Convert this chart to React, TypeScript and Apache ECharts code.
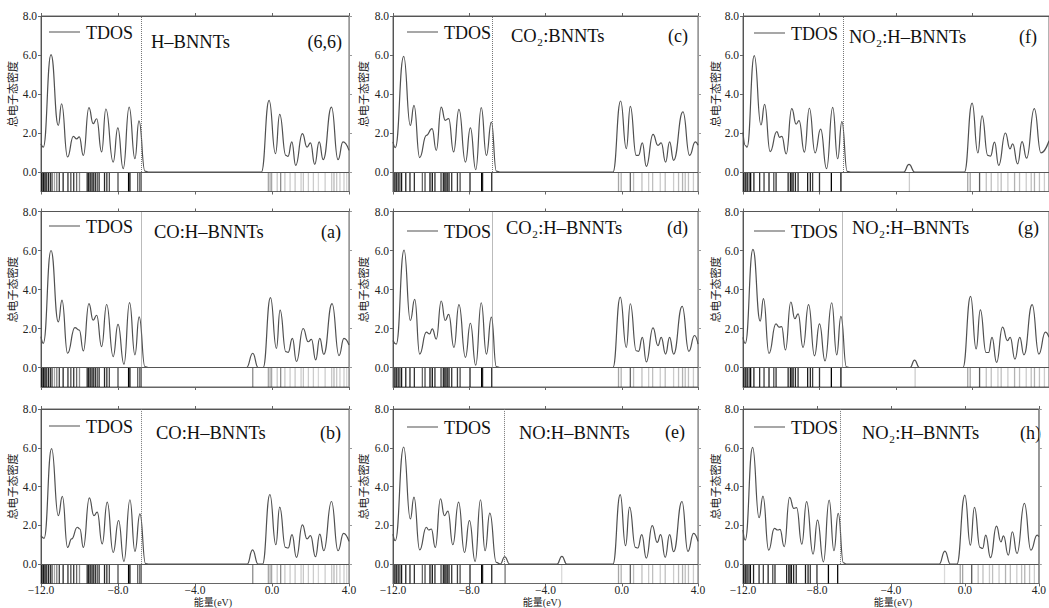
import React, { useEffect, useRef } from 'react';
import * as echarts from 'echarts';

// ---------------- DATA ----------------
const X_TICK_VALUES = [-12, -8, -4, 0, 4];
const Y_TICK_VALUES = [0, 2, 4, 6, 8];
const Y_AXIS_NAME = '总电子态密度';
const X_AXIS_NAME = '能量(eV)';
const LEGEND_NAME = 'TDOS';

const PANEL_TITLES = ['H–BNNTs', 'CO₂:BNNTs', 'NO₂:H–BNNTs', 'CO:H–BNNTs', 'CO₂:H–BNNTs', 'NO₂:H–BNNTs', 'CO:H–BNNTs', 'NO:H–BNNTs', 'NO₂:H–BNNTs'];
const PANEL_TAGS = ['(6,6)', '(c)', '(f)', '(a)', '(d)', '(g)', '(b)', '(e)', '(h)'];
const FERMI_LEVELS = [-6.81, -6.77, -6.77, -6.77, -6.77, -6.8, -6.77, -6.16, -6.74];

// TDOS curves: [energy (eV), density]
const DOS_66 = [[-12, 1.45], [-11.88, 1.28], [-11.48, 6.02], [-11.1, 2.39], [-10.93, 3.5], [-10.62, 0.77], [-10.32, 1.83], [-10.15, 1.7], [-10.01, 1.8], [-9.8, 0.85], [-9.51, 3.3], [-9.29, 2.48], [-9.11, 2.73], [-8.85, 1.03], [-8.63, 3.23], [-8.25, 0.51], [-8.01, 2.26], [-7.73, 0.17], [-7.42, 3.33], [-7.12, 0.68], [-6.91, 2.62], [-6.6, 0.05], [-6.43, 0], [-0.55, 0], [-0.15, 3.67], [0.18, 0.94], [0.4, 2.96], [0.72, 0.85], [0.83, 0.8], [1.03, 1.54], [1.23, 0.34], [1.58, 1.97], [1.82, 1.28], [2.0, 1.49], [2.22, 0.39], [2.45, 1.54], [2.66, 0.63], [3.09, 3.33], [3.43, 0.63], [3.69, 1.54], [4.0, 1.11]];
const DOS_A = [[-12, 1.58], [-11.88, 1.24], [-11.48, 6.0], [-11.1, 2.34], [-10.91, 3.46], [-10.62, 0.73], [-10.24, 2.05], [-10.01, 1.92], [-9.8, 0.85], [-9.51, 3.28], [-9.29, 2.43], [-9.11, 2.68], [-8.85, 1.07], [-8.59, 3.23], [-8.25, 0.56], [-8.0, 2.21], [-7.69, 0.17], [-7.4, 3.33], [-7.12, 0.65], [-6.9, 2.6], [-6.6, 0.05], [-6.43, 0], [-1.32, 0], [-1.0, 0.73], [-0.72, 0], [-0.46, 0], [-0.08, 3.58], [0.23, 0.98], [0.42, 2.94], [0.72, 0.81], [0.84, 0.78], [1.06, 1.49], [1.27, 0.31], [1.62, 2.0], [1.88, 1.32], [2.05, 1.44], [2.27, 0.39], [2.48, 1.49], [2.69, 0.68], [3.12, 3.28], [3.48, 0.61], [3.74, 1.49], [4.0, 1.15]];
const DOS_B = [[-12, 1.47], [-11.84, 1.33], [-11.45, 5.96], [-11.1, 2.5], [-10.89, 3.49], [-10.62, 0.86], [-10.41, 1.3], [-10.11, 1.9], [-9.98, 1.81], [-9.8, 0.86], [-9.49, 3.42], [-9.25, 2.5], [-9.08, 2.68], [-8.82, 1.04], [-8.56, 3.2], [-8.25, 0.6], [-7.97, 2.25], [-7.69, 0.14], [-7.38, 3.32], [-7.12, 0.66], [-6.86, 2.59], [-6.57, 0.03], [-6.4, 0], [-1.29, 0], [-1.01, 0.73], [-0.72, 0], [-0.49, 0], [-0.11, 3.59], [0.2, 1.0], [0.4, 2.94], [0.7, 0.86], [0.84, 0.83], [1.04, 1.52], [1.27, 0.35], [1.58, 2.02], [1.82, 1.3], [2.0, 1.47], [2.26, 0.38], [2.48, 1.55], [2.69, 0.69], [3.09, 3.23], [3.43, 0.69], [3.72, 1.59], [4.0, 1.17]];
const DOS_C = [[-12, 1.54], [-11.88, 1.25], [-11.44, 5.93], [-11.09, 2.39], [-10.9, 3.42], [-10.6, 0.74], [-10.25, 1.88], [-9.95, 2.22], [-9.73, 1.11], [-9.47, 3.33], [-9.26, 2.65], [-9.08, 2.74], [-8.82, 1.03], [-8.54, 3.21], [-8.2, 0.51], [-7.94, 2.26], [-7.66, 0.12], [-7.37, 3.3], [-7.1, 0.85], [-6.84, 2.56], [-6.58, 0.05], [-6.4, 0], [-0.46, 0], [-0.06, 3.64], [0.24, 1.2], [0.45, 3.37], [0.76, 0.85], [0.88, 0.85], [1.08, 1.49], [1.29, 0.29], [1.64, 1.93], [1.9, 1.37], [2.07, 1.49], [2.3, 0.51], [2.51, 1.54], [2.72, 0.6], [3.21, 3.08], [3.56, 0.85], [3.86, 1.54], [4.0, 1.37]];
const DOS_D = [[-12, 1.38], [-11.83, 1.2], [-11.42, 6.02], [-11.09, 2.41], [-10.86, 3.49], [-10.6, 0.69], [-10.25, 1.81], [-10.08, 1.72], [-9.94, 1.98], [-9.73, 1.46], [-9.47, 3.41], [-9.26, 2.41], [-9.08, 2.72], [-8.8, 1.03], [-8.54, 3.22], [-8.2, 0.52], [-7.94, 2.27], [-7.66, 0.12], [-7.37, 3.32], [-7.1, 0.69], [-6.84, 2.58], [-6.58, 0.05], [-6.4, 0], [-0.46, 0], [-0.08, 3.61], [0.24, 1.03], [0.45, 3.27], [0.76, 0.86], [0.88, 0.83], [1.08, 1.55], [1.29, 0.29], [1.64, 2.03], [1.9, 1.12], [2.07, 1.55], [2.3, 0.69], [2.51, 1.55], [2.72, 0.69], [3.17, 3.13], [3.52, 0.83], [3.82, 1.64], [4.0, 1.2]];
const DOS_E = [[-12, 1.55], [-11.88, 1.21], [-11.44, 6.04], [-11.09, 2.33], [-10.9, 3.45], [-10.6, 0.73], [-10.25, 1.9], [-10.13, 1.76], [-9.99, 1.81], [-9.78, 0.86], [-9.51, 3.37], [-9.3, 2.5], [-9.12, 2.73], [-8.86, 1.0], [-8.56, 3.2], [-8.25, 0.6], [-7.99, 2.25], [-7.69, 0.14], [-7.41, 3.32], [-7.17, 0.69], [-6.92, 2.63], [-6.58, 0.09], [-6.37, 0], [-6.14, 0.38], [-5.88, 0], [-3.4, 0], [-3.14, 0.4], [-2.88, 0], [-0.46, 0], [-0.08, 3.58], [0.2, 0.95], [0.41, 2.94], [0.72, 0.86], [0.84, 0.83], [1.05, 1.52], [1.29, 0.31], [1.6, 1.99], [1.86, 1.12], [2.04, 1.52], [2.28, 0.35], [2.51, 1.52], [2.72, 0.64], [3.16, 3.23], [3.47, 0.66], [3.77, 1.59], [4.0, 1.17]];
const DOS_F = [[-12, 2.03], [-11.88, 1.36], [-11.79, 1.27], [-11.41, 5.97], [-11.06, 2.41], [-10.87, 3.47], [-10.58, 1.05], [-10.23, 2.07], [-10.09, 1.78], [-9.97, 1.83], [-9.74, 0.93], [-9.45, 3.25], [-9.22, 2.46], [-9.07, 2.63], [-8.79, 1.02], [-8.53, 3.27], [-8.23, 0.98], [-7.94, 2.2], [-7.63, 0.17], [-7.31, 3.31], [-7.05, 0.68], [-6.83, 2.58], [-6.55, 0.03], [-6.32, 0], [-3.6, 0], [-3.32, 0.39], [-3.02, 0], [-0.42, 0], [-0.02, 3.53], [0.28, 0.98], [0.5, 2.88], [0.8, 0.85], [0.94, 0.81], [1.15, 1.53], [1.37, 0.34], [1.72, 2.0], [1.96, 1.19], [2.1, 1.44], [2.36, 0.42], [2.59, 1.56], [2.83, 0.71], [3.23, 3.25], [3.58, 0.98], [4.0, 1.6]];
const DOS_G = [[-12, 1.55], [-11.88, 1.24], [-11.48, 6.06], [-11.1, 2.38], [-10.93, 3.53], [-10.64, 0.72], [-10.28, 2.24], [-10.11, 2.07], [-9.98, 2.1], [-9.78, 0.9], [-9.5, 3.36], [-9.29, 2.5], [-9.12, 2.75], [-8.86, 1.03], [-8.57, 3.22], [-8.26, 0.6], [-8.0, 2.24], [-7.71, 0.34], [-7.36, 3.32], [-7.1, 0.65], [-6.88, 2.62], [-6.59, 0.03], [-6.41, 0], [-3.26, 0], [-3.03, 0.38], [-2.78, 0], [-0.5, 0], [-0.1, 3.65], [0.19, 0.95], [0.41, 2.96], [0.71, 0.77], [0.84, 0.77], [1.02, 1.55], [1.26, 0.26], [1.57, 2.07], [1.83, 1.38], [1.97, 1.55], [2.22, 0.43], [2.47, 1.55], [2.69, 0.65], [3.12, 3.22], [3.47, 0.69], [3.81, 1.81], [4.0, 1.55]];
const DOS_H = [[-12, 1.76], [-11.88, 1.24], [-11.48, 6.02], [-11.13, 2.39], [-10.92, 3.51], [-10.61, 0.72], [-10.3, 1.84], [-10.12, 1.76], [-10.0, 1.79], [-9.77, 0.9], [-9.48, 3.44], [-9.25, 2.87], [-9.1, 2.91], [-8.82, 1.03], [-8.56, 3.22], [-8.21, 0.52], [-7.97, 2.27], [-7.65, 0.12], [-7.34, 3.3], [-7.08, 0.69], [-6.85, 2.62], [-6.57, 0.07], [-6.4, 0], [-1.39, 0], [-1.08, 0.67], [-0.78, 0], [-0.43, 0], [0, 3.56], [0.3, 0.98], [0.52, 2.93], [0.82, 0.86], [0.96, 0.81], [1.13, 1.5], [1.39, 0.33], [1.71, 1.96], [1.95, 1.15], [2.09, 1.46], [2.35, 0.46], [2.57, 1.67], [2.82, 0.55], [3.22, 3.13], [3.57, 0.72], [3.91, 1.5], [4.0, 1.41]];

// Energy-level sticks: [energy (eV), darkness 0..1]
const VB_STICKS_COL1 = [[-11.95, 0.95], [-11.87, 0.9], [-11.79, 1], [-11.7, 0.85], [-11.6, 0.9], [-11.5, 0.8], [-11.42, 0.6], [-11.3, 0.35], [-11.18, 0.5], [-11.05, 0.75], [-10.85, 0.85], [-10.6, 0.8], [-10.45, 0.7], [-10.3, 0.8], [-10.15, 0.6], [-10.0, 0.45], [-9.6, 0.85], [-9.52, 0.95], [-9.44, 0.8], [-9.35, 0.9], [-9.27, 0.75], [-9.18, 0.85], [-9.08, 0.7], [-8.98, 0.8], [-8.7, 0.85], [-8.58, 0.8], [-8.45, 0.7], [-8.0, 0.7], [-7.45, 1], [-7.38, 0.9], [-6.98, 0.6], [-6.88, 0.55], [-6.8, 0.7]];
const VB_STICKS_COL2 = [[-11.9, 0.95], [-11.82, 0.8], [-11.73, 0.9], [-11.64, 0.7], [-11.55, 0.9], [-11.33, 0.85], [-11.11, 0.85], [-10.88, 0.8], [-10.46, 0.6], [-10.32, 0.7], [-10.06, 0.9], [-9.94, 0.95], [-9.8, 0.8], [-9.48, 0.75], [-9.36, 0.85], [-9.29, 0.7], [-9.22, 0.9], [-9.14, 0.75], [-9.06, 0.85], [-8.92, 0.8], [-8.62, 0.75], [-8.48, 0.7], [-7.96, 0.85], [-7.35, 1], [-7.3, 0.8], [-6.82, 0.85]];
const VB_STICKS_COL3 = [[-11.95, 0.9], [-11.86, 0.8], [-11.78, 0.9], [-11.68, 0.75], [-11.6, 0.95], [-11.43, 0.85], [-11.13, 0.8], [-10.9, 0.75], [-10.64, 0.85], [-10.39, 0.7], [-10.27, 0.8], [-9.64, 0.85], [-9.52, 0.9], [-9.45, 0.7], [-9.38, 0.9], [-9.26, 0.85], [-9.12, 0.8], [-8.62, 0.9], [-8.48, 0.85], [-8.36, 0.75], [-8.0, 0.8], [-7.38, 1], [-6.88, 0.95]];
const CB_STICKS_COL1 = [[-0.19, 0.35], [-0.1, 0.3], [-0.02, 0.35], [0.27, 0.22], [0.45, 0.45], [0.67, 0.22], [0.94, 0.2], [1.2, 0.22], [1.51, 0.2], [1.63, 0.22], [1.89, 0.2], [2.15, 0.2], [2.41, 0.16], [2.76, 0.2], [3.1, 0.22], [3.22, 0.28], [3.36, 0.22], [3.53, 0.2], [3.74, 0.2], [3.88, 0.16]];
const CB_STICKS_COL2 = [[-0.17, 0.35], [-0.03, 0.3], [0.45, 0.6], [0.62, 0.25], [1.06, 0.25], [1.41, 0.2], [1.62, 0.25], [2.02, 0.2], [2.28, 0.25], [2.72, 0.2], [2.98, 0.25], [3.19, 0.3], [3.33, 0.25], [3.5, 0.25], [3.76, 0.2]];
const CB_STICKS_COL3 = [[-0.25, 0.35], [-0.12, 0.35], [0.37, 0.65], [0.72, 0.25], [0.98, 0.25], [1.33, 0.2], [1.5, 0.25], [1.85, 0.2], [2.2, 0.3], [2.46, 0.25], [2.81, 0.2], [3.07, 0.25], [3.24, 0.3], [3.5, 0.25], [3.76, 0.2]];
const GAP_STICKS_66: number[][] = [];
const GAP_STICKS_C: number[][] = [];
const GAP_STICKS_F = [[-3.3, 0.2]];
const GAP_STICKS_A = [[-1.0, 0.45]];
const GAP_STICKS_D: number[][] = [];
const GAP_STICKS_G = [[-3.0, 0.2]];
const GAP_STICKS_B = [[-1.0, 0.45]];
const GAP_STICKS_E = [[-6.12, 0.55], [-3.15, 0.15]];
const GAP_STICKS_H = [[-1.1, 0.15]];

// panel order: row-major (row1: 6,6 / c / f ; row2: a / d / g ; row3: b / e / h)
const PANEL_DOS = [DOS_66, DOS_C, DOS_F, DOS_A, DOS_D, DOS_G, DOS_B, DOS_E, DOS_H];
const PANEL_VB = [VB_STICKS_COL1, VB_STICKS_COL2, VB_STICKS_COL3, VB_STICKS_COL1, VB_STICKS_COL2, VB_STICKS_COL3, VB_STICKS_COL1, VB_STICKS_COL2, VB_STICKS_COL3];
const PANEL_CB = [CB_STICKS_COL1, CB_STICKS_COL2, CB_STICKS_COL3, CB_STICKS_COL1, CB_STICKS_COL2, CB_STICKS_COL3, CB_STICKS_COL1, CB_STICKS_COL2, CB_STICKS_COL3];
const PANEL_GAP = [GAP_STICKS_66, GAP_STICKS_C, GAP_STICKS_F, GAP_STICKS_A, GAP_STICKS_D, GAP_STICKS_G, GAP_STICKS_B, GAP_STICKS_E, GAP_STICKS_H];

// ---------------- LAYOUT ----------------
const COL_LEFT = [41, 393, 743];
const COL_RIGHT = [349, 698, 1050];
const ROW_TOP = [16, 211.5, 409];
const ROW_BOTTOM = [191.5, 387, 583.5];
const YNAME_X = [13, 364, 716];
const LABEL_POS = [
  { lx: 49, ly: 32, tx: 151, ty: 42, gx: 342, gy: 42 },
  { lx: 407, ly: 32, tx: 511, ty: 36, gx: 688, gy: 36 },
  { lx: 754, ly: 33, tx: 849, ty: 37, gx: 1037, gy: 37 },
  { lx: 49, ly: 226, tx: 154, ty: 232, gx: 341, gy: 232 },
  { lx: 407, ly: 231, tx: 506, ty: 228, gx: 688, gy: 228 },
  { lx: 754, ly: 231, tx: 852, ty: 228, gx: 1039, gy: 228 },
  { lx: 49, ly: 426, tx: 156, ty: 433, gx: 341, gy: 433 },
  { lx: 407, ly: 427, tx: 519, ty: 433, gx: 685, gy: 432 },
  { lx: 754, ly: 427, tx: 862, ty: 433, gx: 1041, gy: 433 },
];
const XNAME_POS = [[213, 602.5], [542, 602.5], [893, 602.5]];

const SERIF = '"Liberation Serif", "Times New Roman", "Noto Sans CJK SC", serif';
const AXIS_COLOR = '#666';

function fmtNum(v: number) {
  return (v < 0 ? '−' : '') + Math.abs(v).toFixed(1);
}

export default function App() {
  const ref = useRef<HTMLDivElement>(null);
  useEffect(() => {
    if (!ref.current) return;
    const chart = echarts.init(ref.current, undefined, { renderer: 'svg' });
    const grids: any[] = [];
    const xAxes: any[] = [];
    const yAxes: any[] = [];
    const series: any[] = [];
    const graphic: any[] = [];

    for (let i = 0; i < 9; i++) {
      const r = Math.floor(i / 3);
      const c = i % 3;
      grids.push({
        left: COL_LEFT[c], top: ROW_TOP[r],
        width: COL_RIGHT[c] - COL_LEFT[c], height: ROW_BOTTOM[r] - ROW_TOP[r],
        show: true, borderColor: AXIS_COLOR, borderWidth: 1, containLabel: false,
      });
      const bottomRow = r === 2;
      xAxes.push({
        type: 'value', gridIndex: i, min: -12, max: 4, interval: 4, position: 'bottom',
        axisLine: { show: true, onZero: false, lineStyle: { color: AXIS_COLOR } },
        axisTick: { show: true, length: 3, lineStyle: { color: AXIS_COLOR } },
        splitLine: { show: false },
        axisLabel: {
          show: bottomRow, margin: 1, fontFamily: SERIF, fontSize: 11.5, color: '#222',
          customValues: X_TICK_VALUES, formatter: (v: number) => fmtNum(v),
        },
      });
      xAxes.push({
        type: 'value', gridIndex: i, min: -12, max: 4, interval: 4, position: 'top',
        axisLine: { show: true, onZero: false, lineStyle: { color: '#555' } },
        axisTick: { show: true, length: 3, lineStyle: { color: AXIS_COLOR } },
        splitLine: { show: false }, axisLabel: { show: false },
      });
      yAxes.push({
        type: 'value', gridIndex: i, min: -1, max: 8, interval: 1, position: 'left',
        axisLine: { show: true, onZero: false, lineStyle: { color: '#555' } },
        axisTick: { show: true, length: 3, customValues: Y_TICK_VALUES, lineStyle: { color: AXIS_COLOR } },
        splitLine: { show: false },
        axisLabel: {
          show: true, margin: 4, fontFamily: SERIF, fontSize: 11.5, color: '#222',
          customValues: Y_TICK_VALUES,
          formatter: (v: number) => (v >= 0 && v % 2 === 0 ? v.toFixed(1) : ''),
        },
      });
      yAxes.push({
        type: 'value', gridIndex: i, min: -1, max: 8, interval: 1, position: 'right',
        axisLine: { show: true, onZero: false, lineStyle: { color: '#999' } },
        axisTick: { show: true, length: 3, customValues: Y_TICK_VALUES, lineStyle: { color: '#999' } },
        splitLine: { show: false }, axisLabel: { show: false },
      });

      const ef = FERMI_LEVELS[i];
      series.push({
        type: 'line', name: LEGEND_NAME, xAxisIndex: i * 2, yAxisIndex: i * 2,
        data: PANEL_DOS[i], smooth: 0.5, smoothMonotone: 'x', showSymbol: false, silent: true,
        lineStyle: { color: '#505050', width: 1.2 },
        markLine: {
          silent: true, symbol: 'none', label: { show: false },
          data: [
            { yAxis: 0, lineStyle: { type: 'solid', color: '#555', width: 1 } },
            [
              { coord: [ef, 0], lineStyle: { type: 'dotted', color: '#777', width: 1 } },
              { coord: [ef, 8] },
            ],
          ],
        },
      });
      const sticks = [...PANEL_VB[i], ...PANEL_GAP[i], ...PANEL_CB[i]];
      series.push({
        type: 'custom', xAxisIndex: i * 2, yAxisIndex: i * 2, silent: true,
        data: sticks,
        renderItem: (_p: any, api: any) => {
          const e = api.value(0);
          const a = api.value(1);
          const p0 = api.coord([e, 0]);
          const p1 = api.coord([e, -1]);
          return {
            type: 'line',
            shape: { x1: p0[0], y1: p0[1], x2: p1[0], y2: p1[1] },
            style: { stroke: `rgba(0,0,0,${a})`, lineWidth: 1.3 },
          };
        },
      });

      const L = LABEL_POS[i];
      graphic.push({
        type: 'line', shape: { x1: L.lx, y1: L.ly, x2: L.lx + 31, y2: L.ly },
        style: { stroke: '#8a8a8a', lineWidth: 1.5 }, silent: true,
      });
      graphic.push({
        type: 'text', x: L.lx + 37, y: L.ly + 1,
        style: { text: LEGEND_NAME, font: `18px ${SERIF}`, fill: '#111', textAlign: 'left', textVerticalAlign: 'middle' },
      });
      graphic.push({
        type: 'text', x: L.tx, y: L.ty,
        style: { text: PANEL_TITLES[i], font: `18.5px ${SERIF}`, fill: '#111', textAlign: 'left', textVerticalAlign: 'middle' },
      });
      graphic.push({
        type: 'text', x: L.gx, y: L.gy,
        style: { text: PANEL_TAGS[i], font: `18px ${SERIF}`, fill: '#111', textAlign: 'right', textVerticalAlign: 'middle' },
      });
      graphic.push({
        type: 'text', x: YNAME_X[c], y: ROW_TOP[r] + (ROW_BOTTOM[r] - ROW_TOP[r]) * 4 / 9,
        rotation: Math.PI / 2,
        style: { text: Y_AXIS_NAME, font: `11px ${SERIF}`, fill: '#222', textAlign: 'center', textVerticalAlign: 'middle' },
      });
    }
    for (let c = 0; c < 3; c++) {
      graphic.push({
        type: 'text', x: XNAME_POS[c][0], y: XNAME_POS[c][1],
        style: { text: X_AXIS_NAME, font: `10px ${SERIF}`, fill: '#222', textAlign: 'center', textVerticalAlign: 'middle' },
      });
    }

    chart.setOption({
      animation: false,
      backgroundColor: '#fff',
      grid: grids,
      xAxis: xAxes,
      yAxis: yAxes,
      series,
      graphic,
    });
    return () => chart.dispose();
  }, []);
  return (
    <div
      ref={ref}
      style={{ position: 'fixed', left: 0, top: 0, width: 1049, height: 608, background: '#fff' }}
    />
  );
}
